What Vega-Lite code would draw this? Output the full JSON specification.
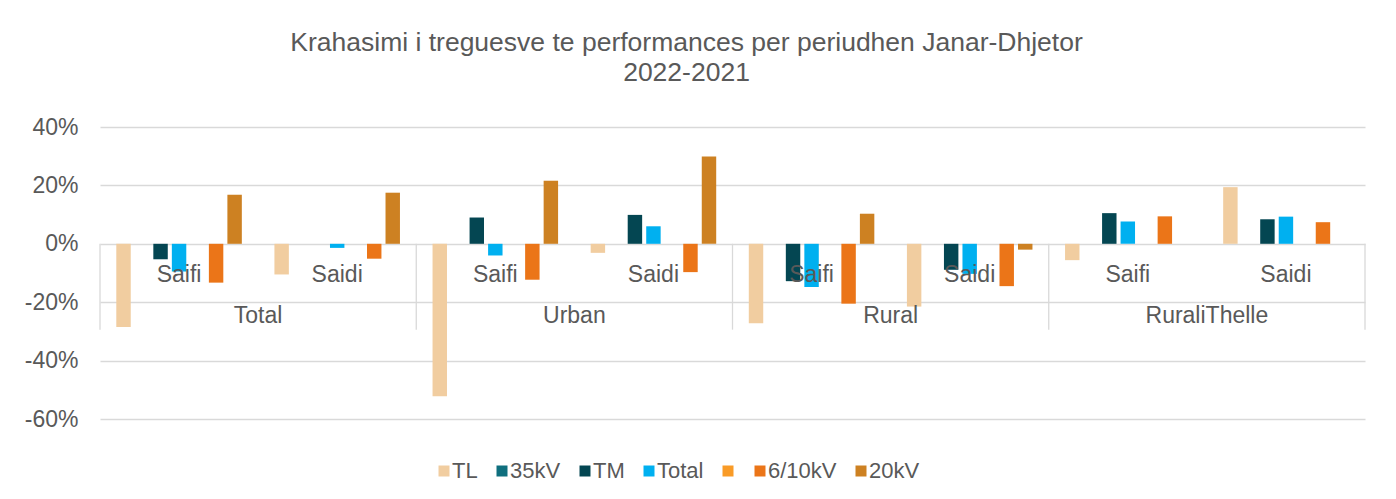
{
  "$schema": "https://vega.github.io/schema/vega-lite/v6.json",
  "width": 1265,
  "height": 292,
  "autosize": {"type": "none"},
  "padding": {"left": 100, "top": 127, "right": 31, "bottom": 80},
  "background": "white",
  "config": {"font": "Liberation Sans", "view": {"stroke": null}},
  "title": {
    "text": ["Krahasimi i treguesve te performances per periudhen Janar-Dhjetor", "2022-2021"],
    "fontSize": 26.5, "fontWeight": "normal", "color": "#595959", "anchor": "middle",
    "dx": -46, "offset": 30, "lineHeight": 30
  },
  "datasets": {
    "bars": [
      {"cat": "Total|Saifi", "series": "TL", "value": -0.285},
      {"cat": "Total|Saifi", "series": "TM", "value": -0.053},
      {"cat": "Total|Saifi", "series": "Total", "value": -0.095},
      {"cat": "Total|Saifi", "series": "6/10kV", "value": -0.133},
      {"cat": "Total|Saifi", "series": "20kV", "value": 0.168},
      {"cat": "Total|Saidi", "series": "TL", "value": -0.105},
      {"cat": "Total|Saidi", "series": "Total", "value": -0.014},
      {"cat": "Total|Saidi", "series": "6/10kV", "value": -0.051},
      {"cat": "Total|Saidi", "series": "20kV", "value": 0.175},
      {"cat": "Urban|Saifi", "series": "TL", "value": -0.522},
      {"cat": "Urban|Saifi", "series": "TM", "value": 0.09},
      {"cat": "Urban|Saifi", "series": "Total", "value": -0.04},
      {"cat": "Urban|Saifi", "series": "6/10kV", "value": -0.123},
      {"cat": "Urban|Saifi", "series": "20kV", "value": 0.216},
      {"cat": "Urban|Saidi", "series": "TL", "value": -0.031},
      {"cat": "Urban|Saidi", "series": "TM", "value": 0.099},
      {"cat": "Urban|Saidi", "series": "Total", "value": 0.06},
      {"cat": "Urban|Saidi", "series": "6/10kV", "value": -0.097},
      {"cat": "Urban|Saidi", "series": "20kV", "value": 0.299},
      {"cat": "Rural|Saifi", "series": "TL", "value": -0.272},
      {"cat": "Rural|Saifi", "series": "TM", "value": -0.128},
      {"cat": "Rural|Saifi", "series": "Total", "value": -0.148},
      {"cat": "Rural|Saifi", "series": "6/10kV", "value": -0.205},
      {"cat": "Rural|Saifi", "series": "20kV", "value": 0.103},
      {"cat": "Rural|Saidi", "series": "TL", "value": -0.215},
      {"cat": "Rural|Saidi", "series": "TM", "value": -0.089},
      {"cat": "Rural|Saidi", "series": "Total", "value": -0.103},
      {"cat": "Rural|Saidi", "series": "6/10kV", "value": -0.145},
      {"cat": "Rural|Saidi", "series": "20kV", "value": -0.02},
      {"cat": "RuraliThelle|Saifi", "series": "TL", "value": -0.056},
      {"cat": "RuraliThelle|Saifi", "series": "TM", "value": 0.105},
      {"cat": "RuraliThelle|Saifi", "series": "Total", "value": 0.076},
      {"cat": "RuraliThelle|Saifi", "series": "6/10kV", "value": 0.094},
      {"cat": "RuraliThelle|Saidi", "series": "TL", "value": 0.194},
      {"cat": "RuraliThelle|Saidi", "series": "TM", "value": 0.084},
      {"cat": "RuraliThelle|Saidi", "series": "Total", "value": 0.093},
      {"cat": "RuraliThelle|Saidi", "series": "6/10kV", "value": 0.074}
    ],
    "groups": [
      {"cat": "Total|Saifi", "label": "Total"},
      {"cat": "Urban|Saifi", "label": "Urban"},
      {"cat": "Rural|Saifi", "label": "Rural"},
      {"cat": "RuraliThelle|Saifi", "label": "RuraliThelle"}
    ],
    "lastEdge": [
      {"cat": "RuraliThelle|Saidi"}
    ]
  },
  "layer": [
    {
      "data": {"name": "bars"},
      "mark": {"type": "bar"},
      "encoding": {
        "x": {
          "field": "cat", "type": "nominal", "sort": null,
          "scale": {
            "domain": ["Total|Saifi", "Total|Saidi", "Urban|Saifi", "Urban|Saidi", "Rural|Saifi", "Rural|Saidi", "RuraliThelle|Saifi", "RuraliThelle|Saidi"],
            "paddingInner": 0, "paddingOuter": 0
          },
          "axis": {
            "title": null, "orient": "bottom", "offset": -175, "domain": false,
            "ticks": false, "tickSize": 0, "grid": false,
            "labelExpr": "split(datum.value, '|')[1]", "labelAngle": 0,
            "labelFontSize": 23, "labelColor": "#595959", "labelPadding": 37,
            "labelBaseline": "alphabetic", "zindex": 1
          }
        },
        "xOffset": {
          "field": "series", "type": "nominal",
          "scale": {"domain": ["TL", "35kV", "TM", "Total", " ", "6/10kV", "20kV"], "paddingInner": 0.22, "paddingOuter": 0.88}
        },
        "y": {
          "field": "value", "type": "quantitative",
          "scale": {"domain": [-0.6, 0.4], "nice": false, "zero": false},
          "axis": {
            "title": null, "values": [-0.6, -0.4, -0.2, 0, 0.2, 0.4],
            "labelExpr": "round(datum.value * 100) + '%'",
            "domain": false, "ticks": false, "tickSize": 0, "labelPadding": 22,
            "labelFontSize": 23, "labelColor": "#595959",
            "grid": true, "gridColor": "#D9D9D9", "gridWidth": 1.3
          }
        },
        "color": {
          "field": "series", "type": "nominal",
          "scale": {
            "domain": ["TL", "35kV", "TM", "Total", " ", "6/10kV", "20kV"],
            "range": ["#F1CDA0", "#0F6F7E", "#044652", "#00B0F0", "#F99B27", "#EB7518", "#CD8122"]
          },
          "legend": {
            "title": null, "orient": "none", "legendX": 333, "legendY": 333,
            "direction": "horizontal", "columns": 7, "symbolType": "square",
            "symbolSize": 121, "symbolStrokeWidth": 0, "labelFontSize": 22,
            "labelColor": "#595959", "columnPadding": 13, "labelOffset": -3
          }
        }
      }
    },
    {
      "data": {"name": "groups"},
      "mark": {"type": "rule", "color": "#D9D9D9", "strokeWidth": 1.3},
      "encoding": {
        "x": {"field": "cat", "type": "nominal", "bandPosition": 0},
        "y": {"datum": 0, "type": "quantitative"},
        "y2": {"datum": -0.294}
      }
    },
    {
      "data": {"name": "lastEdge"},
      "mark": {"type": "rule", "color": "#D9D9D9", "strokeWidth": 1.3},
      "encoding": {
        "x": {"field": "cat", "type": "nominal", "bandPosition": 1},
        "y": {"datum": 0, "type": "quantitative"},
        "y2": {"datum": -0.294}
      }
    },
    {
      "data": {"name": "groups"},
      "mark": {"type": "text", "baseline": "alphabetic", "align": "center", "fontSize": 23, "color": "#595959"},
      "encoding": {
        "x": {"field": "cat", "type": "nominal", "bandPosition": 1},
        "y": {"datum": -0.27, "type": "quantitative"},
        "text": {"field": "label"}
      }
    }
  ]
}
